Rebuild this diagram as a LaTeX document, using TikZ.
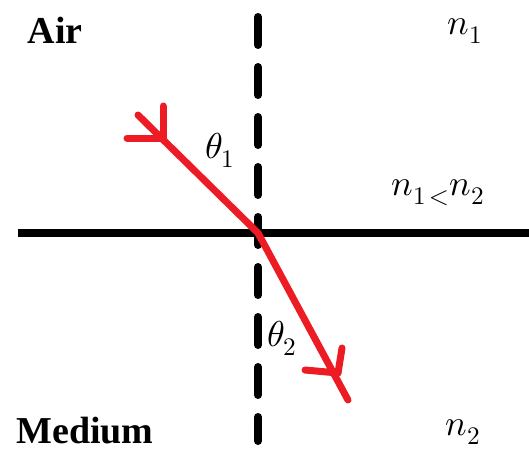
\documentclass[tikz,border=0pt]{standalone}
\usepackage{fontspec}
\usepackage{unicode-math}
\setmainfont{Liberation Serif}
\usepackage{tikz}
\usetikzlibrary{positioning,calc}
\definecolor{rayred}{RGB}{237,28,36}
\tikzset{
  normal/.style={line width=8pt,line cap=round,dash pattern=on 28pt off 22pt},
  ray/.style={rayred,line width=7pt,line cap=round,line join=round},
  medlabel/.style={font=\fontsize{38}{40}\selectfont\bfseries,inner sep=0pt},
  symlabel/.style={font=\fontsize{36}{38}\selectfont,inner sep=0pt}
}

\begin{document}
\begin{tikzpicture}[x=1pt,y=-1pt]
\useasboundingbox (0,0) rectangle (529,451);

% Coordinates of interface and normal
\coordinate (L) at (18,233);
\coordinate (R) at (529,233);
\coordinate (T) at (258,17);
\coordinate (B) at (258,441);

% Coordinates of rays
\coordinate (O) at (258,233);
\coordinate (S) at (138,115);
\coordinate (P) at (163,138);
\coordinate (Q) at (338,373);
\coordinate (E) at (348,400);

% Draw interface and normal
\draw [line width=8pt] (L) -- (R);
\draw [normal] (T) -- (B);

% Draw incident and refracted ray
\draw [ray] (S) -- (O) -- (E);
\draw [ray] (P) -- +(0,-32);
\draw [ray] (P) -- +(-36,0);
\draw [ray] (Q) -- +(4,-25);
\draw [ray] (Q) -- +(-33,-3);

% Labels
\node [medlabel] (air) at (55,30) {Air};
\node [medlabel] (medium) at (85,431) {Medium};
\node [symlabel] (n1) at (465,31) {$n_1$};
\node [symlabel] (n2) at (463,432) {$n_2$};
\node [symlabel] (cmp) at (438,193) {$n_{1\,<}n_2$};
\node [symlabel] (th1) at (220,150) {$\theta_1$};
\node [symlabel] (th2) at (282,338) {$\theta_2$};

\end{tikzpicture}
\end{document}
